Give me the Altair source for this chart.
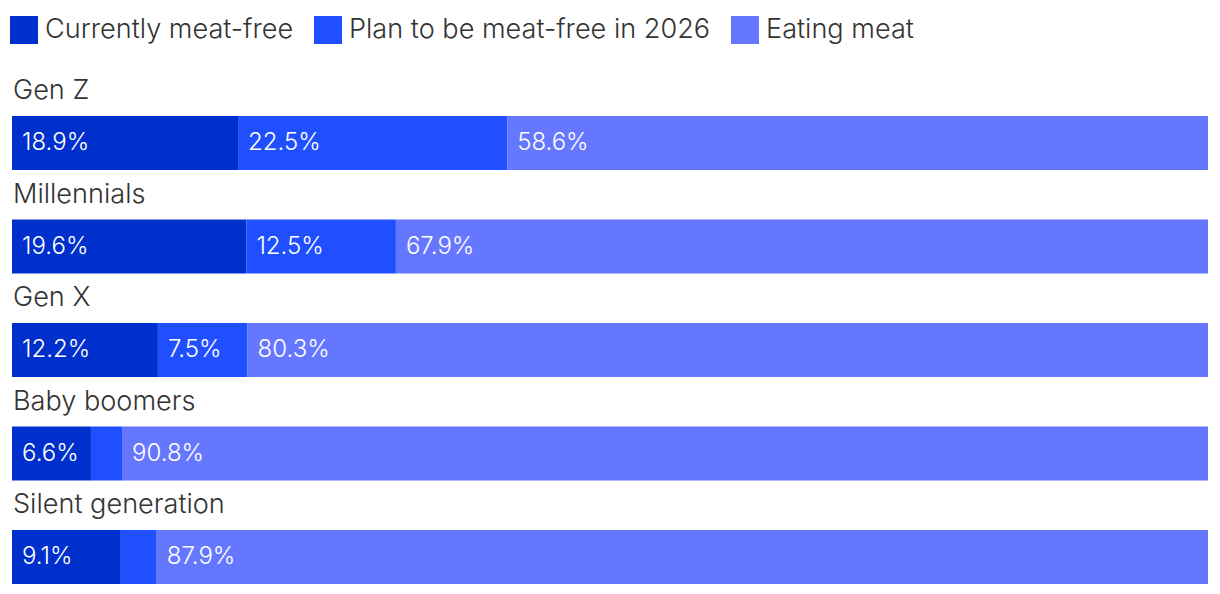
import altair as alt
import pandas as pd

categories = ["Gen Z", "Millennials", "Gen X", "Baby boomers", "Silent generation"]
series = ["Currently meat-free", "Plan to be meat-free in 2026", "Eating meat"]
currently = [18.9, 19.6, 12.2, 6.6, 9.1]
plan = [22.5, 12.5, 7.5, 2.6, 3.0]
eating = [58.6, 67.9, 80.3, 90.8, 87.9]
colors = ["#0030CC", "#1F4FFF", "#6677FF"]

rows = []
for i, c in enumerate(categories):
    for j, (s, vals) in enumerate(zip(series, [currently, plan, eating])):
        rows.append({"cat": c, "series": s, "order": j, "value": vals[i]})
df = pd.DataFrame(rows)
cat_df = pd.DataFrame({"cat": categories})

FONT = "Inter"
TXT = 27.1

y_enc = alt.Y("cat:N", sort=categories, axis=None,
              scale=alt.Scale(paddingInner=49.5 / 103.5, paddingOuter=0))

bars = alt.Chart(df).mark_bar().encode(
    x=alt.X("value:Q", stack="zero", axis=None, scale=alt.Scale(domain=[0, 100], nice=False)),
    y=y_enc,
    color=alt.Color("series:N", sort=series,
                    scale=alt.Scale(domain=series, range=colors),
                    legend=alt.Legend(title=None, orient="none", direction="horizontal",
                                      legendX=-2, legendY=-100)),
    order=alt.Order("order:Q"),
)

labels = alt.Chart(df).transform_stack(
    stack="value", groupby=["cat"], as_=["x0", "x1"], sort=[alt.SortField("order")]
).transform_filter("datum.value >= 5").transform_calculate(
    lab="format(datum.value, '.1f') + '%'"
).mark_text(align="left", baseline="middle", dx=10, color="white",
            fontSize=24, font=FONT, fontWeight=300).encode(
    x=alt.X("x0:Q", scale=alt.Scale(domain=[0, 100], nice=False)),
    y=y_enc,
    text="lab:N",
)

cat_labels = alt.Chart(cat_df).mark_text(
    align="left", baseline="middle", dx=1, dy=-52, color="#333333",
    fontSize=TXT, font=FONT, fontWeight=300
).encode(
    x=alt.value(0),
    y=y_enc,
    text="cat:N",
)

chart = alt.layer(bars, labels, cat_labels).properties(
    width=1196, height=468,
    autosize=alt.AutoSizeParams(type="none"),
    padding={"left": 4, "top": 108, "right": 0, "bottom": 0},
).configure_view(stroke=None).configure_legend(
    symbolType="square", symbolSize=784, symbolStrokeWidth=0, symbolOpacity=1,
    labelFontSize=TXT, labelFont=FONT, labelFontWeight=300, labelColor="#333333",
    labelOffset=7, columnPadding=20, padding=0, labelLimit=0,
)

chart.save("out.html", embed_options={"renderer": "svg", "actions": False})
